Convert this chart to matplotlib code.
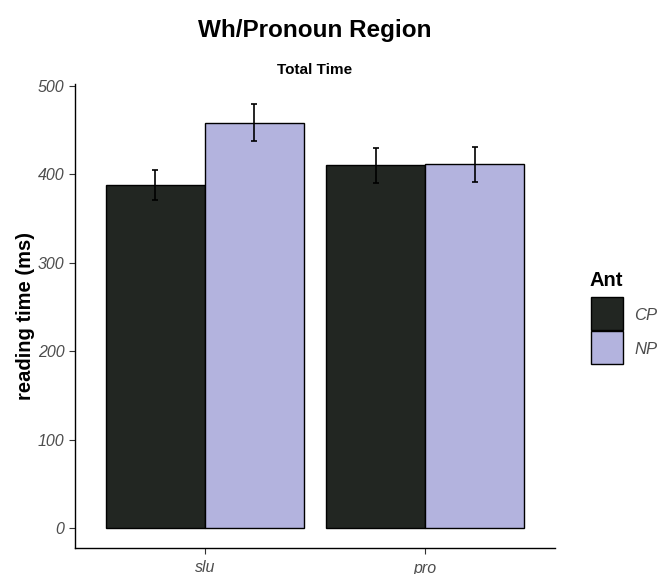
import numpy as np
import matplotlib
matplotlib.use('Agg')
import matplotlib.pyplot as plt
from matplotlib.patches import Rectangle

plt.rcParams['font.family'] = ['Liberation Sans', 'DejaVu Sans']

# --- Data ---
conditions = ['slu', 'pro']
ant_levels = ['CP', 'NP']
cp_means = [388, 410]
np_means = [458, 411]
cp_err = [17, 20]
np_err = [21, 20]
colors = {'CP': '#222622', 'NP': '#b3b3de'}

fig = plt.figure(figsize=(6.57, 5.74), dpi=100)
W, H = 657, 574
ax = fig.add_axes([75 / W, (H - 548) / H, 480 / W, (548 - 84) / H])

x = np.arange(1, len(conditions) + 1)
width = 0.45
for i, (lvl, means, errs) in enumerate([('CP', cp_means, cp_err), ('NP', np_means, np_err)]):
    pos = x - width / 2 + i * width
    ax.bar(pos, means, width=width, color=colors[lvl], edgecolor='black',
           linewidth=1.0, zorder=2)
    ax.errorbar(pos, means, yerr=errs, fmt='none', ecolor='black',
                elinewidth=1.2, capsize=2.5, capthick=1.2, zorder=3)

ax.set_xlim(0.41, 2.59)
ax.set_ylim(-22.6, 502)
ax.set_xticks(x)
ax.set_xticklabels(conditions, fontsize=11.5, fontstyle='italic', color='#4d4d4d')
ax.set_yticks([0, 100, 200, 300, 400, 500])
ax.set_yticklabels(['0', '100', '200', '300', '400', '500'], fontsize=11.5,
                   fontstyle='italic', color='#4d4d4d')
ax.tick_params(axis='both', length=4, width=0.8, color='#333333')
ax.tick_params(axis='x', pad=5)
for s in ['top', 'right']:
    ax.spines[s].set_visible(False)
for s in ['left', 'bottom']:
    ax.spines[s].set_linewidth(1.0)
ax.set_ylabel('reading time (ms)', fontsize=14.5, fontweight='bold', labelpad=2)

fig.text(315 / W, 1 - 30 / H, 'Wh/Pronoun Region', ha='center', va='center',
         fontsize=17.5, fontweight='bold')
fig.text(315 / W, 1 - 70 / H, 'Total Time', ha='center', va='center',
         fontsize=11, fontweight='bold')

# --- Legend ---
fig.text(590 / W, 1 - 280 / H, 'Ant', ha='left', va='center', fontsize=14.5,
         fontweight='bold')
for j, lvl in enumerate(ant_levels):
    top = 297 + j * 34
    fig.patches.append(Rectangle((591 / W, 1 - (top + 33) / H), 32 / W, 33 / H,
                                 transform=fig.transFigure, facecolor=colors[lvl],
                                 edgecolor='black', linewidth=1.0))
    fig.text(634 / W, 1 - (top + 18) / H, lvl, ha='left', va='center',
             fontsize=12, fontstyle='italic', color='#4d4d4d')

fig.savefig('out.png', dpi=100)
